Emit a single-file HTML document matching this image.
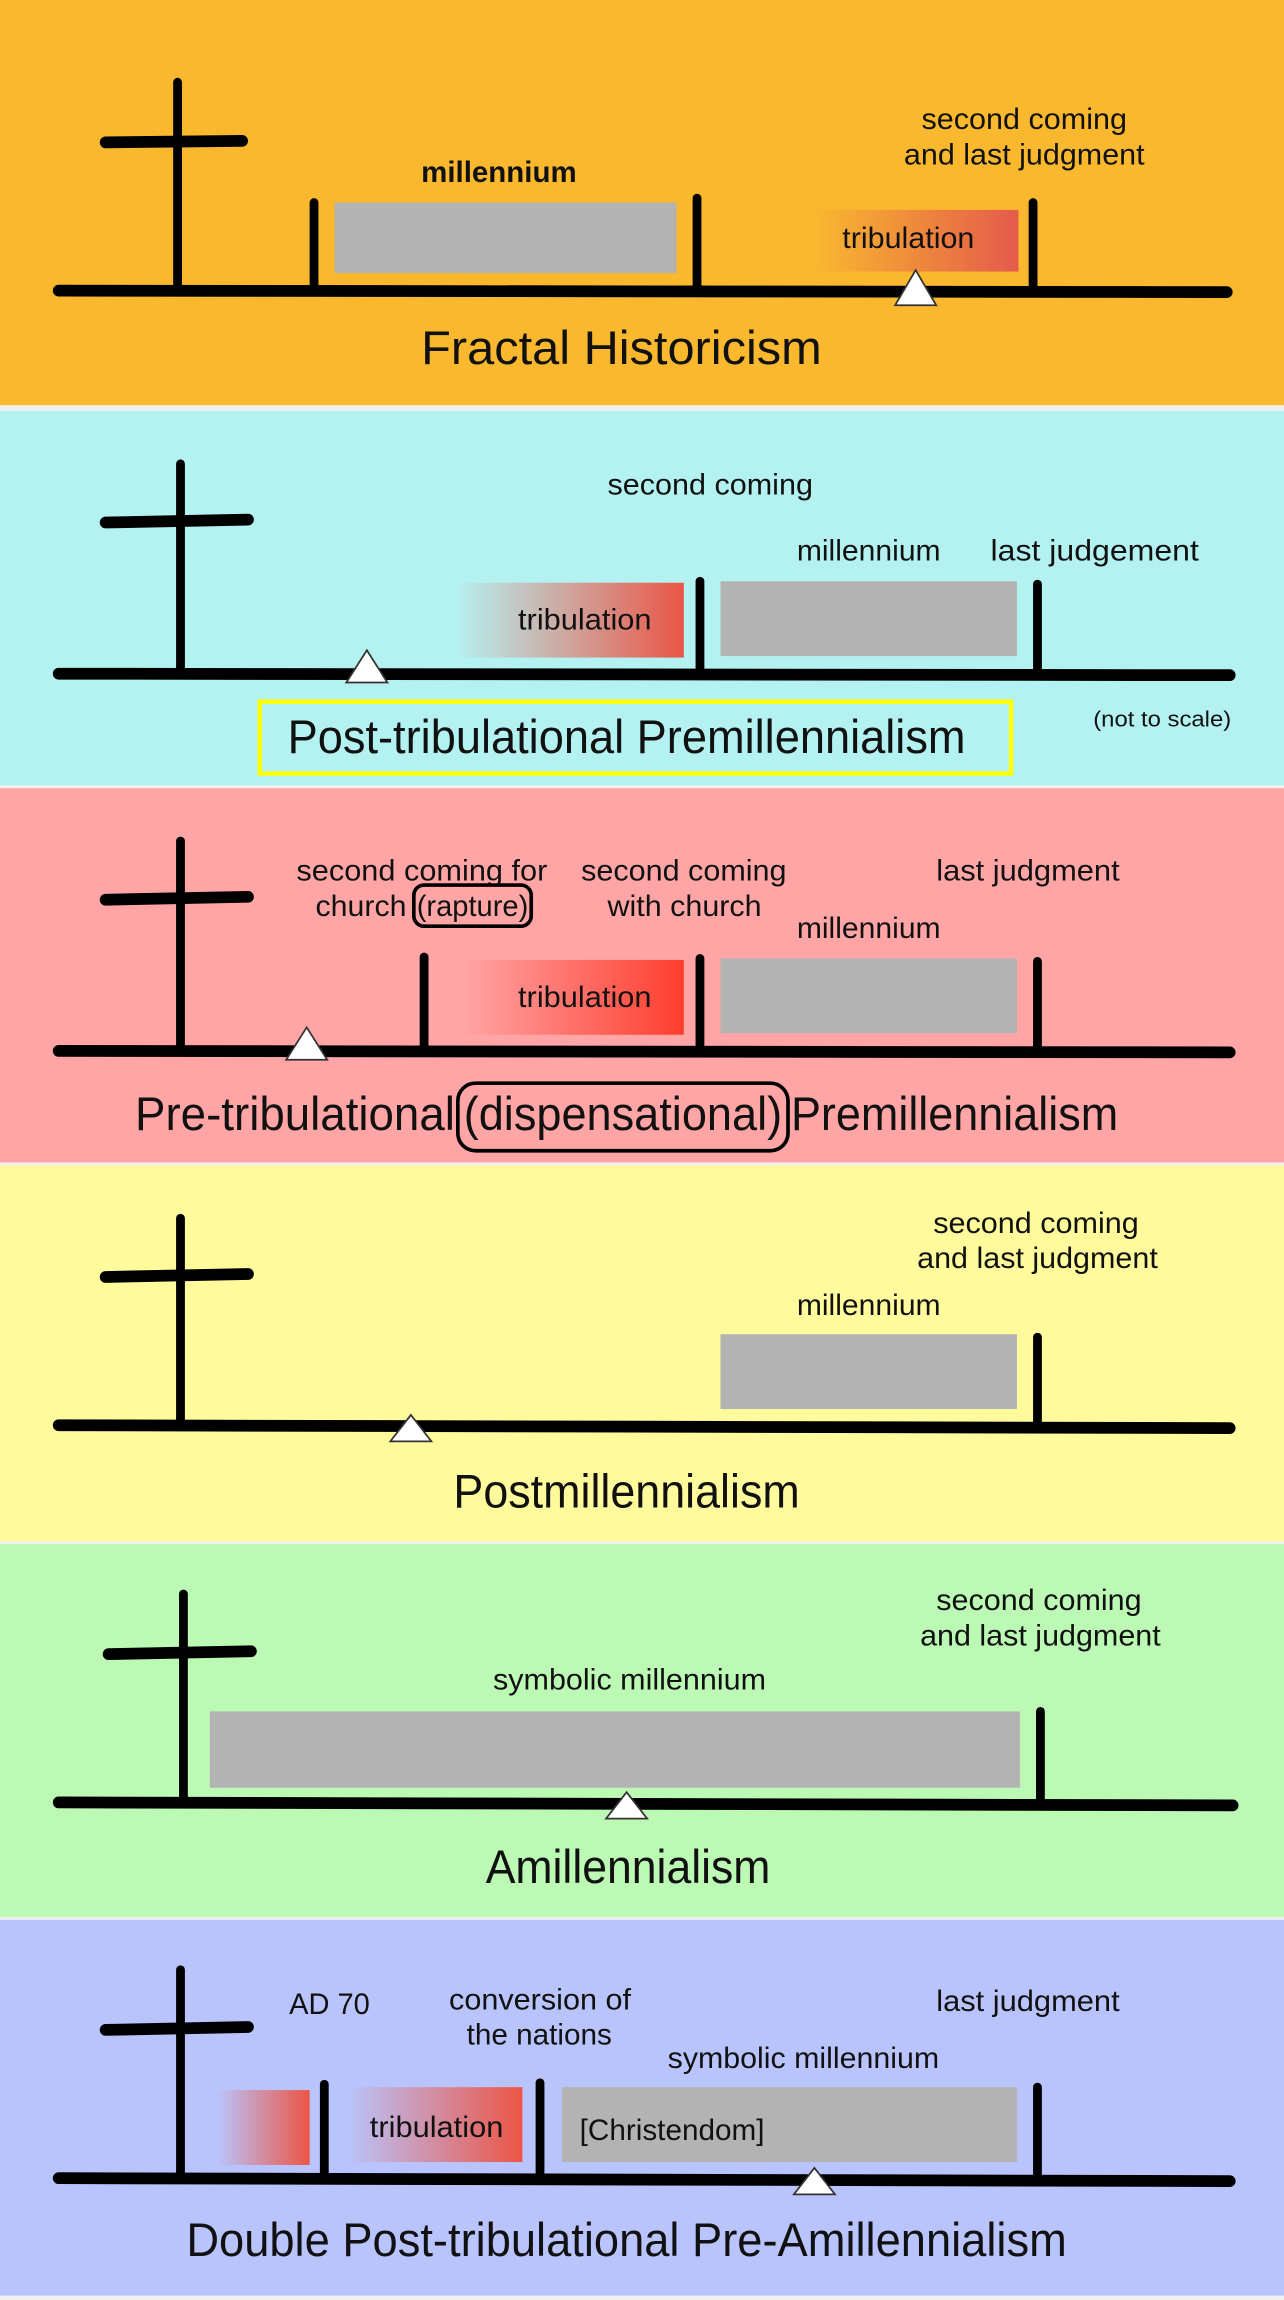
<!DOCTYPE html>
<html><head><meta charset="utf-8"><title>Eschatology timelines</title>
<style>
html,body{margin:0;padding:0;background:#fff;}
svg{display:block;}
text{font-family:"Liberation Sans",Arial,sans-serif;fill:#111;}
.lbl{font-size:20px;}
.ttl{font-size:32px;}
.ln{stroke:#000;stroke-width:6;stroke-linecap:round;}
.tl{stroke:#000;stroke-width:8;stroke-linecap:round;}
.mil{fill:#b3b3b3;}
.tri{fill:#fff;stroke:#333;stroke-width:1.2;}
</style></head>
<body>
<svg width="1284" height="2300" viewBox="0 0 875 1567" preserveAspectRatio="none" xmlns="http://www.w3.org/2000/svg">
<defs>
<linearGradient id="gOr" x1="0" x2="1" y1="0" y2="0"><stop offset="0" stop-color="#f9b82e"/><stop offset="1" stop-color="#e45a4c"/></linearGradient>
<linearGradient id="gCy" x1="0" x2="1" y1="0" y2="0"><stop offset="0" stop-color="#b4f2f2"/><stop offset="1" stop-color="#ea5546"/></linearGradient>
<linearGradient id="gPk" x1="0" x2="1" y1="0" y2="0"><stop offset="0" stop-color="#ffa5a5"/><stop offset="1" stop-color="#ff3d2e"/></linearGradient>
<linearGradient id="gBl" x1="0" x2="1" y1="0" y2="0"><stop offset="0" stop-color="#b9c4fc"/><stop offset="1" stop-color="#ec5545"/></linearGradient>
</defs>
<rect width="875" height="1567" fill="#f0f0f0"/>

<!-- Panel 1 -->
<g>
<rect x="0" y="0" width="875" height="276" fill="#f9b82e"/>
<line class="ln" x1="121" y1="56" x2="121" y2="196"/>
<line class="ln" x1="72" y1="97" x2="165" y2="96" style="stroke-width:8"/>
<rect class="mil" x="228" y="138" width="233" height="48"/>
<rect x="555" y="143" width="139" height="42" fill="url(#gOr)"/>
<line class="ln" x1="214" y1="138" x2="214" y2="196"/>
<line class="ln" x1="475" y1="135" x2="475" y2="196"/>
<line class="ln" x1="704" y1="138" x2="704" y2="196"/>
<line class="tl" x1="40" y1="198" x2="836" y2="199"/>
<polygon class="tri" points="624,184 610,208 638,208"/>
<text class="lbl" x="287" y="124" textLength="106" lengthAdjust="spacingAndGlyphs" style="font-weight:bold">millennium</text>
<text class="lbl" x="574" y="169" textLength="90" lengthAdjust="spacingAndGlyphs">tribulation</text>
<text class="lbl" x="628" y="88" textLength="140" lengthAdjust="spacingAndGlyphs">second coming</text>
<text class="lbl" x="616" y="112" textLength="164" lengthAdjust="spacingAndGlyphs">and last judgment</text>
<text class="ttl" x="287" y="248" textLength="273" lengthAdjust="spacingAndGlyphs">Fractal Historicism</text>
</g>

<!-- Panel 2 -->
<g>
<rect x="0" y="280" width="875" height="255" fill="#b4f2f2"/>
<line class="ln" x1="123" y1="316" x2="123" y2="457"/>
<line class="ln" x1="72" y1="356" x2="169" y2="354" style="stroke-width:8"/>
<rect x="310" y="397" width="156" height="51" fill="url(#gCy)"/>
<rect class="mil" x="491" y="396" width="202" height="51"/>
<line class="ln" x1="477" y1="396" x2="477" y2="457"/>
<line class="ln" x1="707" y1="398" x2="707" y2="457"/>
<line class="tl" x1="40" y1="459" x2="838" y2="460"/>
<polygon class="tri" points="250,443 236,465 264,465"/>
<text class="lbl" x="414" y="337" textLength="140" lengthAdjust="spacingAndGlyphs">second coming</text>
<text class="lbl" x="543" y="382" textLength="98" lengthAdjust="spacingAndGlyphs">millennium</text>
<text class="lbl" x="675" y="382" textLength="142" lengthAdjust="spacingAndGlyphs">last judgement</text>
<text class="lbl" x="353" y="429" textLength="91" lengthAdjust="spacingAndGlyphs">tribulation</text>
<rect x="177" y="478" width="512" height="49" fill="none" stroke="#ffff00" stroke-width="3"/>
<text class="ttl" x="196" y="513" textLength="462" lengthAdjust="spacingAndGlyphs">Post-tribulational Premillennialism</text>
<text x="745" y="495" textLength="94" lengthAdjust="spacingAndGlyphs" style="font-size:15px">(not to scale)</text>
</g>

<!-- Panel 3 -->
<g>
<rect x="0" y="537" width="875" height="255" fill="#ffa5a5"/>
<line class="ln" x1="123" y1="573" x2="123" y2="714"/>
<line class="ln" x1="72" y1="613" x2="169" y2="611" style="stroke-width:8"/>
<rect x="315" y="654" width="151" height="51" fill="url(#gPk)"/>
<rect class="mil" x="491" y="653" width="202" height="51"/>
<line class="ln" x1="289" y1="652" x2="289" y2="714"/>
<line class="ln" x1="477" y1="653" x2="477" y2="714"/>
<line class="ln" x1="707" y1="655" x2="707" y2="714"/>
<line class="tl" x1="40" y1="716" x2="838" y2="717"/>
<polygon class="tri" points="209,700 195,722 223,722"/>
<text class="lbl" x="202" y="600" textLength="171" lengthAdjust="spacingAndGlyphs">second coming for</text>
<text class="lbl" x="215" y="624" textLength="62" lengthAdjust="spacingAndGlyphs">church</text>
<text class="lbl" x="284" y="624" textLength="76" lengthAdjust="spacingAndGlyphs">(rapture)</text>
<rect x="282" y="603" width="80" height="28" rx="7" fill="none" stroke="#000" stroke-width="2.5"/>
<text class="lbl" x="396" y="600" textLength="140" lengthAdjust="spacingAndGlyphs">second coming</text>
<text class="lbl" x="414" y="624" textLength="105" lengthAdjust="spacingAndGlyphs">with church</text>
<text class="lbl" x="543" y="639" textLength="98" lengthAdjust="spacingAndGlyphs">millennium</text>
<text class="lbl" x="638" y="600" textLength="125" lengthAdjust="spacingAndGlyphs">last judgment</text>
<text class="lbl" x="353" y="686" textLength="91" lengthAdjust="spacingAndGlyphs">tribulation</text>
<text class="ttl" x="92" y="770" textLength="218" lengthAdjust="spacingAndGlyphs">Pre-tribulational</text>
<text class="ttl" x="316" y="770" textLength="217" lengthAdjust="spacingAndGlyphs">(dispensational)</text>
<text class="ttl" x="539" y="770" textLength="223" lengthAdjust="spacingAndGlyphs">Premillennialism</text>
<rect x="312" y="738" width="225" height="46" rx="12" fill="none" stroke="#000" stroke-width="2.5"/>
</g>

<!-- Panel 4 -->
<g>
<rect x="0" y="794" width="875" height="256" fill="#fffa9c"/>
<line class="ln" x1="123" y1="830" x2="123" y2="969"/>
<line class="ln" x1="72" y1="870" x2="169" y2="868" style="stroke-width:8"/>
<rect class="mil" x="491" y="909" width="202" height="51"/>
<line class="ln" x1="707" y1="911" x2="707" y2="969"/>
<line class="tl" x1="40" y1="971" x2="838" y2="973"/>
<polygon class="tri" points="280,964 266,982 294,982"/>
<text class="lbl" x="636" y="840" textLength="140" lengthAdjust="spacingAndGlyphs">second coming</text>
<text class="lbl" x="625" y="864" textLength="164" lengthAdjust="spacingAndGlyphs">and last judgment</text>
<text class="lbl" x="543" y="896" textLength="98" lengthAdjust="spacingAndGlyphs">millennium</text>
<text class="ttl" x="309" y="1027" textLength="236" lengthAdjust="spacingAndGlyphs">Postmillennialism</text>
</g>

<!-- Panel 5 -->
<g>
<rect x="0" y="1052" width="875" height="254" fill="#bbf9b5"/>
<line class="ln" x1="125" y1="1086" x2="125" y2="1225"/>
<line class="ln" x1="74" y1="1127" x2="171" y2="1125" style="stroke-width:8"/>
<rect class="mil" x="143" y="1166" width="552" height="52"/>
<line class="ln" x1="709" y1="1166" x2="709" y2="1226"/>
<line class="tl" x1="40" y1="1228" x2="840" y2="1230"/>
<polygon class="tri" points="427,1221 413,1239 441,1239"/>
<text class="lbl" x="638" y="1097" textLength="140" lengthAdjust="spacingAndGlyphs">second coming</text>
<text class="lbl" x="627" y="1121" textLength="164" lengthAdjust="spacingAndGlyphs">and last judgment</text>
<text class="lbl" x="336" y="1151" textLength="186" lengthAdjust="spacingAndGlyphs">symbolic millennium</text>
<text class="ttl" x="331" y="1283" textLength="194" lengthAdjust="spacingAndGlyphs">Amillennialism</text>
</g>

<!-- Panel 6 -->
<g>
<rect x="0" y="1308" width="875" height="256" fill="#b9c4fc"/>
<line class="ln" x1="123" y1="1342" x2="123" y2="1482"/>
<line class="ln" x1="72" y1="1383" x2="169" y2="1381" style="stroke-width:8"/>
<rect x="148" y="1424" width="63" height="51" fill="url(#gBl)"/>
<rect x="237" y="1422" width="119" height="51" fill="url(#gBl)"/>
<rect class="mil" x="383" y="1422" width="310" height="51"/>
<line class="ln" x1="221" y1="1420" x2="221" y2="1481"/>
<line class="ln" x1="368" y1="1419" x2="368" y2="1481"/>
<line class="ln" x1="707" y1="1422" x2="707" y2="1483"/>
<line class="tl" x1="40" y1="1484" x2="838" y2="1486"/>
<polygon class="tri" points="555,1477 541,1495 569,1495"/>
<text class="lbl" x="197" y="1372" textLength="55" lengthAdjust="spacingAndGlyphs">AD 70</text>
<text class="lbl" x="306" y="1369" textLength="124" lengthAdjust="spacingAndGlyphs">conversion of</text>
<text class="lbl" x="318" y="1393" textLength="99" lengthAdjust="spacingAndGlyphs">the nations</text>
<text class="lbl" x="455" y="1409" textLength="185" lengthAdjust="spacingAndGlyphs">symbolic millennium</text>
<text class="lbl" x="638" y="1370" textLength="125" lengthAdjust="spacingAndGlyphs">last judgment</text>
<text class="lbl" x="252" y="1456" textLength="91" lengthAdjust="spacingAndGlyphs">tribulation</text>
<text class="lbl" x="395" y="1458" textLength="126" lengthAdjust="spacingAndGlyphs">[Christendom]</text>
<text class="ttl" x="127" y="1537" textLength="600" lengthAdjust="spacingAndGlyphs">Double Post-tribulational Pre-Amillennialism</text>
</g>
</svg>
</body></html>
